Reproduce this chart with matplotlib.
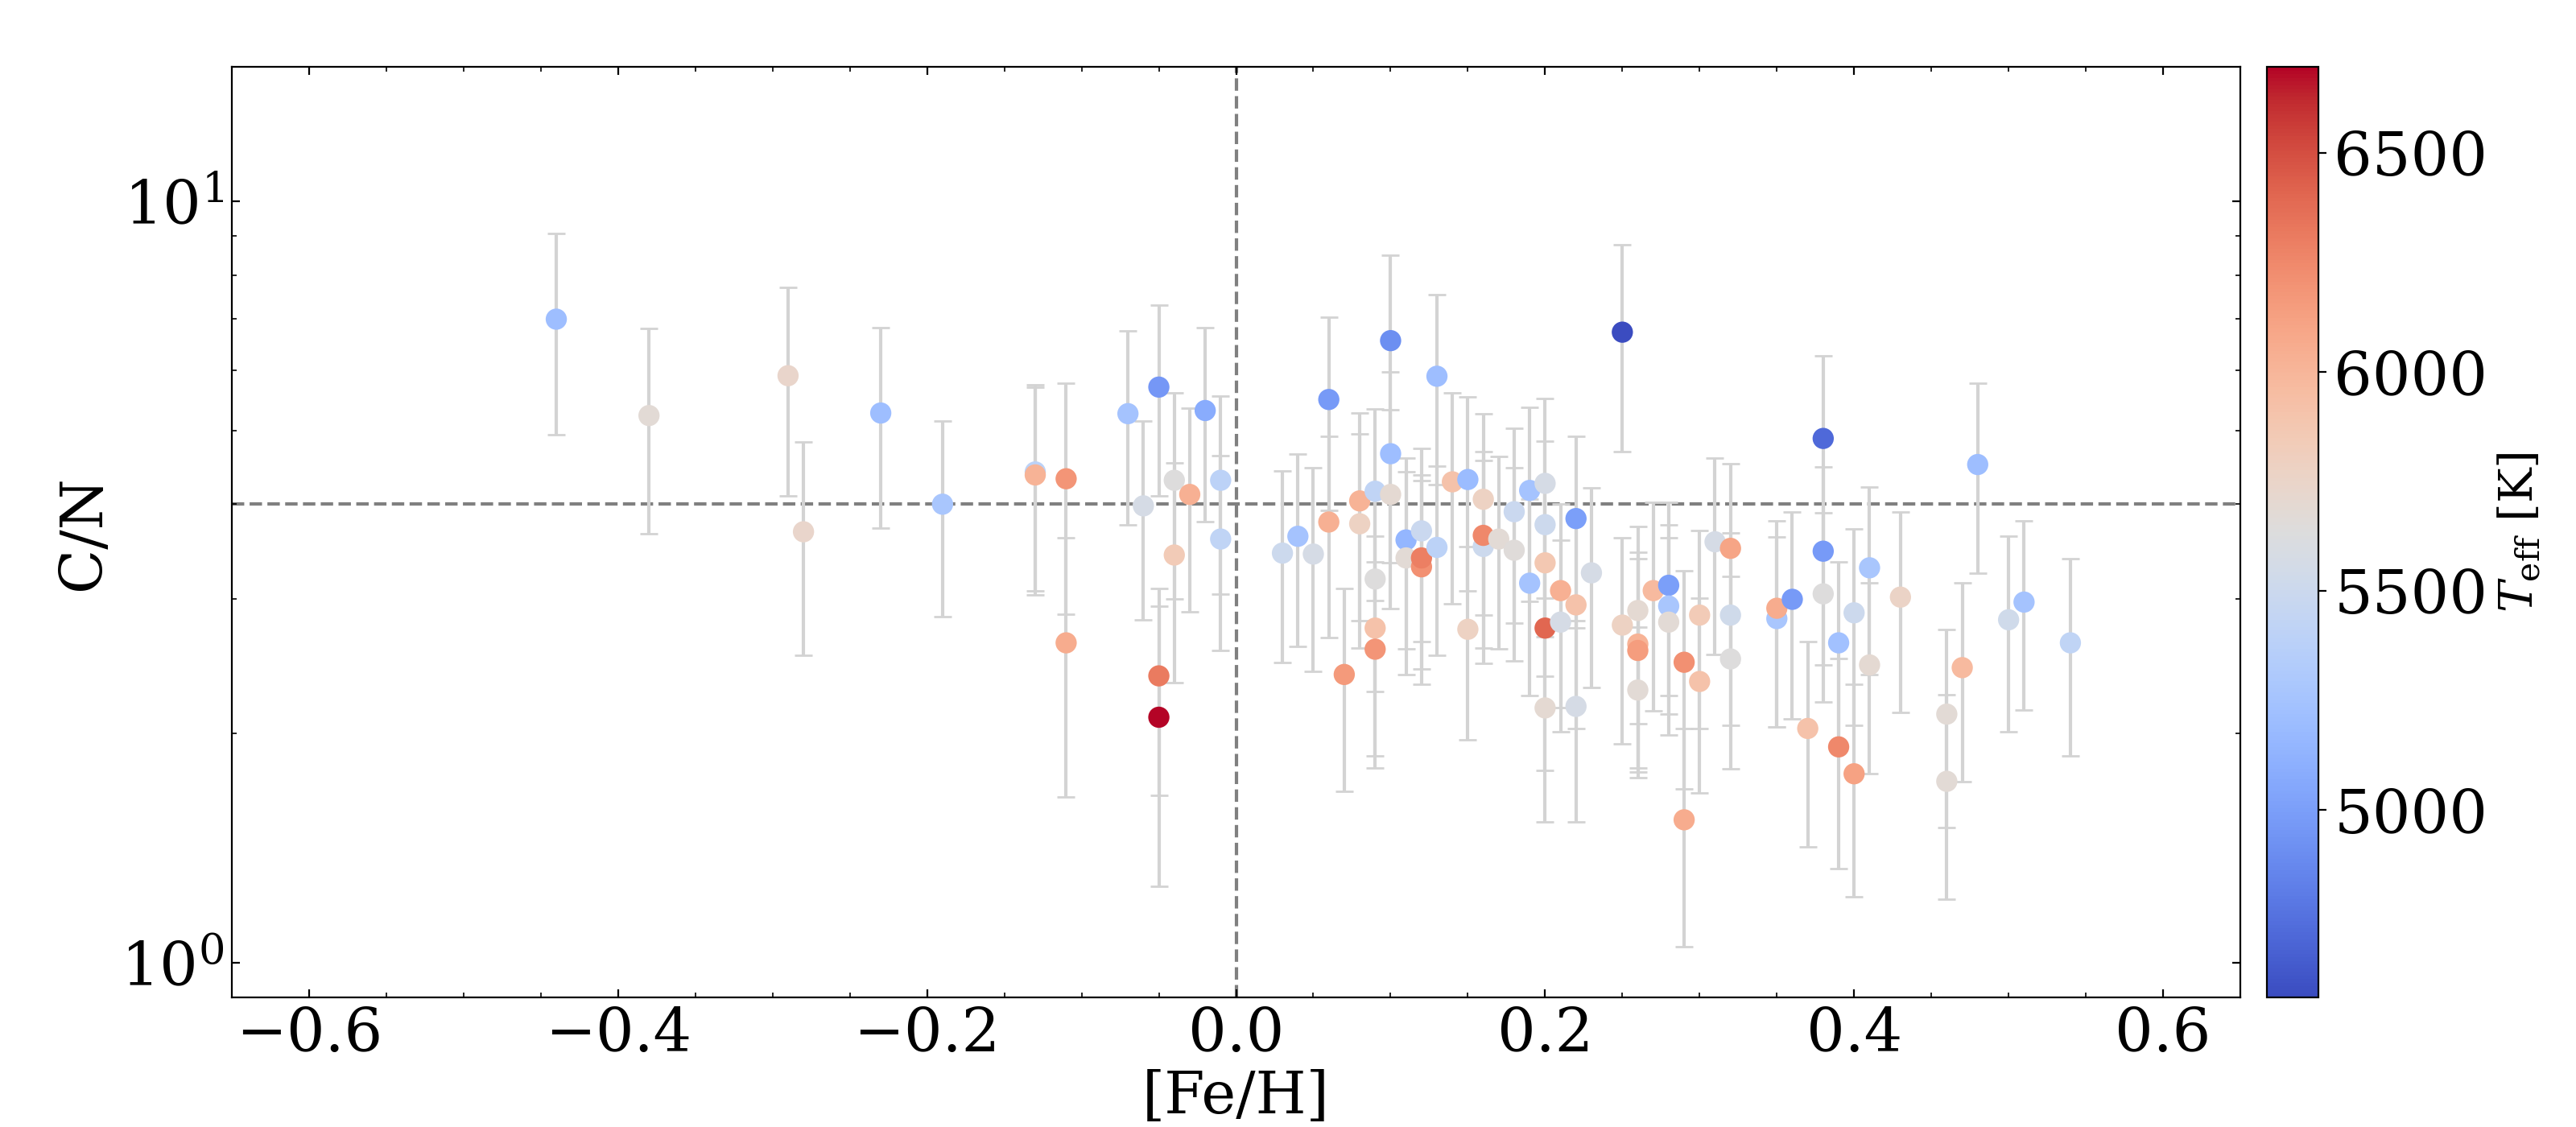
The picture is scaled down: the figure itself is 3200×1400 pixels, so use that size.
import numpy as np
import matplotlib
matplotlib.use("Agg")
import matplotlib.pyplot as plt

plt.rcParams['font.family'] = 'serif'
plt.rcParams['font.serif'] = ['DejaVu Serif']
plt.rcParams['mathtext.fontset'] = 'dejavuserif'

# [Fe/H], C/N, error on C/N, Teff
feh = [-0.44, -0.38, -0.29, -0.28, -0.23, -0.19, -0.13, -0.13, -0.11, -0.11,
       -0.07, -0.06, -0.05, -0.05, -0.05, -0.04, -0.04, -0.03, -0.02, -0.01,
       -0.01, 0.03, 0.04, 0.05, 0.06, 0.06, 0.07, 0.08, 0.08, 0.09,
       0.09, 0.09, 0.09, 0.10, 0.10, 0.10, 0.11, 0.11, 0.12, 0.12,
       0.12, 0.13, 0.13, 0.14, 0.15, 0.15, 0.16, 0.16, 0.16, 0.17,
       0.18, 0.18, 0.19, 0.19, 0.20, 0.20, 0.20, 0.20, 0.20, 0.21,
       0.21, 0.22, 0.22, 0.22, 0.23, 0.25, 0.25, 0.26, 0.26, 0.26,
       0.26, 0.27, 0.28, 0.28, 0.28, 0.29, 0.29, 0.30, 0.30, 0.31,
       0.32, 0.32, 0.32, 0.35, 0.35, 0.36, 0.37, 0.38, 0.38, 0.38,
       0.39, 0.39, 0.40, 0.40, 0.41, 0.41, 0.43, 0.46, 0.46, 0.47,
       0.48, 0.50, 0.51, 0.54]
cn = [7.00, 5.23, 5.90, 3.68, 5.27, 4.00, 4.41, 4.37, 4.32, 2.63,
      5.26, 3.98, 5.70, 2.38, 2.10, 4.30, 3.43, 4.12, 5.31, 4.30,
      3.60, 3.45, 3.63, 3.44, 5.49, 3.79, 2.39, 4.04, 3.77, 4.16,
      3.19, 2.75, 2.58, 6.56, 4.66, 4.12, 3.59, 3.40, 3.69, 3.31,
      3.40, 5.89, 3.51, 4.28, 4.31, 2.74, 4.06, 3.52, 3.64, 3.60,
      3.91, 3.48, 4.17, 3.15, 4.26, 3.76, 3.35, 2.75, 2.16, 3.08,
      2.80, 3.83, 2.95, 2.17, 3.25, 6.73, 2.775, 2.90, 2.62, 2.57,
      2.28, 3.08, 3.13, 2.94, 2.80, 2.48, 1.54, 2.86, 2.34, 3.57,
      3.50, 2.86, 2.505, 2.83, 2.92, 3.00, 2.03, 4.88, 3.47, 3.05,
      2.63, 1.92, 2.88, 1.77, 3.30, 2.46, 3.02, 2.12, 1.73, 2.44,
      4.51, 2.82, 2.975, 2.63]
cn_err = [2.07, 1.57, 1.80, 1.15, 1.55, 1.15, 1.33, 1.33, 1.45, 0.98,
          1.50, 1.16, 1.60, 0.72, 0.84, 1.30, 1.10, 1.23, 1.52, 1.25,
          1.03, 0.97, 1.03, 1.03, 1.56, 1.12, 0.71, 1.23, 1.18, 1.17,
          0.92, 0.88, 0.78, 1.94, 1.31, 1.20, 1.01, 1.01, 1.05, 0.99,
          0.97, 1.65, 0.98, 1.32, 1.23, 0.78, 1.20, 1.05, 1.05, 1.02,
          1.12, 0.99, 1.19, 0.91, 1.25, 1.08, 0.97, 0.96, 0.63, 0.92,
          0.79, 1.08, 0.92, 0.64, 0.95, 2.04, 0.835, 0.84, 0.84, 0.82,
          0.48, 0.94, 0.89, 0.82, 0.81, 0.79, 0.49, 0.83, 0.67, 1.03,
          1.02, 0.81, 0.71, 0.79, 0.88, 0.91, 0.61, 1.38, 1.01, 0.85,
          0.73, 0.59, 0.83, 0.55, 0.91, 0.69, 0.89, 0.615, 0.52, 0.71,
          1.26, 0.81, 0.83, 0.76]
teff = [5209, 5676, 5740, 5740, 5209, 5273, 5400, 6016, 6185, 6058,
        5251, 5570, 4954, 6313, 6695, 5634, 5846, 6037, 5082, 5400,
        5421, 5506, 5251, 5570, 4975, 6037, 6164, 6016, 5782, 5421,
        5634, 5909, 6185, 4912, 5209, 5697, 5145, 5676, 5485, 6207,
        6292, 5209, 5400, 5909, 5188, 5782, 5782, 5506, 6249, 5676,
        5485, 5655, 5251, 5251, 5570, 5506, 5867, 6398, 5697, 6037,
        5570, 4997, 5909, 5570, 5570, 4572, 5782, 5697, 6016, 6143,
        5676, 5973, 4997, 5273, 5676, 6207, 6058, 5846, 5909, 5570,
        6101, 5527, 5634, 5273, 6058, 4975, 5909, 4720, 4975, 5634,
        5230, 6249, 5506, 6122, 5273, 5697, 5761, 5676, 5676, 5973,
        5209, 5527, 5251, 5421]

fig = plt.figure(figsize=(16, 7), dpi=200)
ax = fig.add_axes([0.09, 0.115, 0.7797, 0.8254])
cax = fig.add_axes([0.88, 0.115, 0.02, 0.8254])

ax.errorbar(feh, cn, yerr=cn_err, fmt='none', ecolor='lightgray',
            elinewidth=1.5, capsize=4, zorder=1)
sc = ax.scatter(feh, cn, c=teff, cmap='coolwarm', s=90,
                edgecolors='none', zorder=2)

ax.axhline(4, color='gray', linestyle='--', linewidth=1.5, zorder=0)
ax.axvline(0, color='gray', linestyle='--', linewidth=1.5, zorder=0)

ax.set_yscale('log')
ax.set_xlim(-0.65, 0.65)
ax.set_ylim(0.9, 15)
ax.set_xticks([-0.6, -0.4, -0.2, 0.0, 0.2, 0.4, 0.6])
ax.minorticks_on()
ax.tick_params(which='both', direction='in', top=True, right=True)
ax.tick_params(axis='both', labelsize=27)
ax.set_xlabel('[Fe/H]', fontsize=26, labelpad=2)
ax.set_ylabel('C/N', fontsize=26)

cb = fig.colorbar(sc, cax=cax)
cb.set_ticks([5000, 5500, 6000, 6500])
cb.ax.tick_params(labelsize=27)
cb.set_label(r'$T_{\rm eff}$ [K]', fontsize=21)

fig.savefig('out.png')
